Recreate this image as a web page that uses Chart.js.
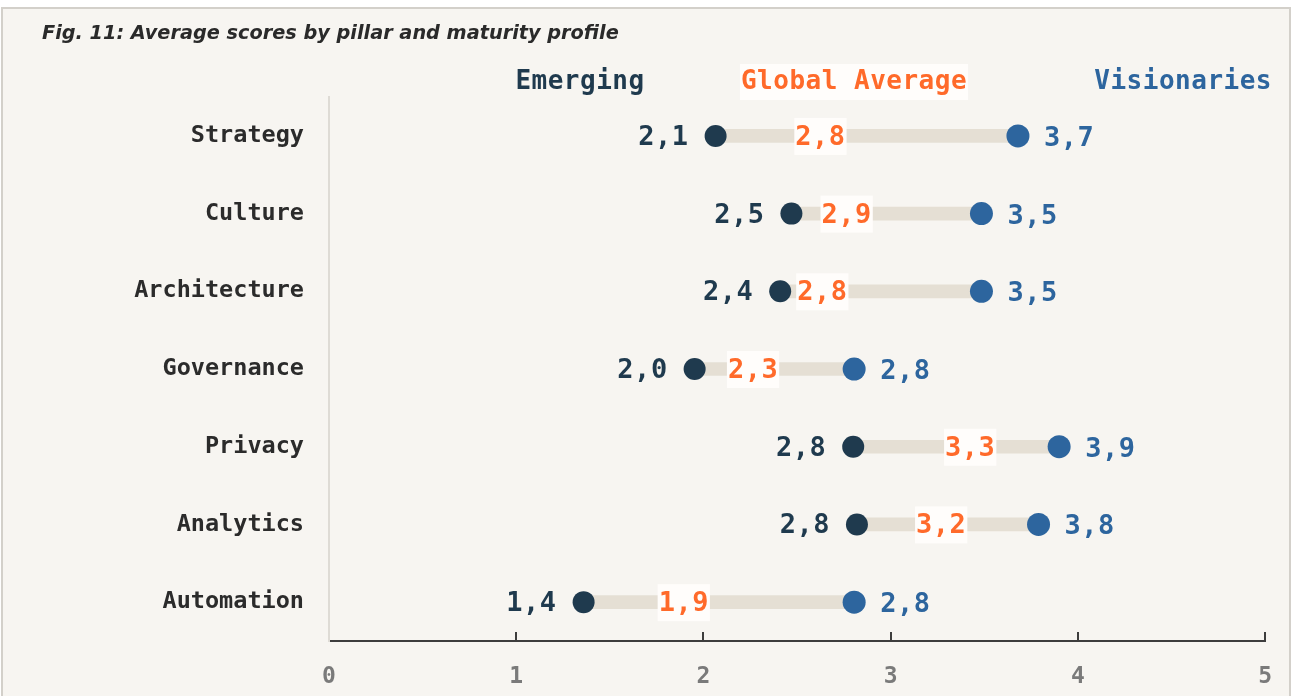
<!DOCTYPE html>
<html>
<head>
<meta charset="utf-8">
<script src="https://cdn.jsdelivr.net/npm/chart.js@4"></script>
<style>
  html, body { margin: 0; padding: 0; background: #ffffff; }
  body { width: 1294px; height: 696px; position: relative; overflow: hidden; }
  .frame {
    position: absolute; left: 1px; top: 7px; width: 1286px; height: 700px;
    border: 2px solid #d3d0ca; border-bottom: none; background: #f7f5f1;
  }
  #wrap { position: absolute; left: 0; top: 0; width: 1294px; height: 696px; }
</style>
</head>
<body>
<div class="frame"></div>
<div id="wrap"><canvas id="chart"></canvas></div>
<script>
// data
const categories = ["Strategy", "Culture", "Architecture", "Governance", "Privacy", "Analytics", "Automation"];
const emerging = [2.065, 2.47, 2.41, 1.953, 2.80, 2.82, 1.36];
const visionaries = [3.68, 3.485, 3.485, 2.805, 3.90, 3.79, 2.805];
const globalAvg = [2.8, 2.9, 2.8, 2.3, 3.3, 3.2, 1.9];
// where the global average label sits along the axis
const globalLabelAt = [2.625, 2.765, 2.635, 2.265, 3.425, 3.27, 1.895];
const xTicks = [0, 1, 2, 3, 4, 5];

const MONO = "'DejaVu Sans Mono', monospace";
const navy = "#1f3a4e";
const blue = "#2d659e";
const orange = "#ff6a2a";

const fmt = v => v.toFixed(1).replace(".", ",");

// labels, headers and the little up-ticks on the x axis
const annotations = {
  id: "annotations",
  afterDatasetsDraw(chart) {
    const ctx = chart.ctx;
    const x = chart.scales.x, y = chart.scales.y;
    ctx.save();
    ctx.letterSpacing = "0.5px";
    ctx.font = "bold 27px " + MONO;
    ctx.textBaseline = "middle";

    categories.forEach((c, i) => {
      const yy = y.getPixelForValue(i);
      // emerging value
      ctx.fillStyle = navy;
      ctx.textAlign = "right";
      ctx.fillText(fmt(emerging[i]), x.getPixelForValue(emerging[i]) - 27, yy + 2);
      // visionaries value
      ctx.fillStyle = blue;
      ctx.textAlign = "left";
      ctx.fillText(fmt(visionaries[i]), x.getPixelForValue(visionaries[i]) + 26, yy + 3);
      // global average with white box
      const gx = x.getPixelForValue(globalLabelAt[i]);
      const t = fmt(globalAvg[i]);
      const w = ctx.measureText(t).width;
      ctx.fillStyle = "#fffdfb";
      ctx.fillRect(gx - w / 2 - 1, yy - 18, w + 2, 37);
      ctx.fillStyle = orange;
      ctx.textAlign = "center";
      ctx.fillText(t, gx, yy + 2);
    });

    // column headers
    const hy = 82;
    ctx.font = "bold 26px " + MONO;
    ctx.textAlign = "center";
    ctx.fillStyle = navy;
    ctx.fillText("Emerging", 580, hy);
    const g = "Global Average";
    const gw = ctx.measureText(g).width;
    ctx.fillStyle = "#fffdfb";
    ctx.fillRect(854 - gw / 2 - 1, hy - 18, gw + 2, 36);
    ctx.fillStyle = orange;
    ctx.fillText(g, 854, hy);
    ctx.textAlign = "right";
    ctx.fillStyle = blue;
    ctx.fillText("Visionaries", 1272, hy);

    // ticks pointing up from the x axis
    ctx.strokeStyle = "#3d3d3d";
    ctx.lineWidth = 2;
    const base = chart.chartArea.bottom;
    xTicks.forEach(v => {
      if (v === 0) return;
      const px = Math.round(x.getPixelForValue(v));
      ctx.beginPath();
      ctx.moveTo(px, base - 9);
      ctx.lineTo(px, base);
      ctx.stroke();
    });
    ctx.restore();
  }
};

new Chart(document.getElementById("chart"), {
  type: "bar",
  data: {
    labels: categories,
    datasets: [
      {
        label: "range",
        data: emerging.map((e, i) => [e, visionaries[i]]),
        backgroundColor: "#e5dfd4",
        barThickness: 13,
        borderSkipped: false,
        order: 3
      },
      {
        type: "line",
        label: "Emerging",
        data: emerging,
        indexAxis: "y",
        showLine: false,
        pointRadius: 11,
        pointHoverRadius: 11,
        pointBackgroundColor: navy,
        pointBorderWidth: 0,
        order: 1
      },
      {
        type: "line",
        label: "Visionaries",
        data: visionaries,
        indexAxis: "y",
        showLine: false,
        pointRadius: 11.5,
        pointHoverRadius: 11.5,
        pointBackgroundColor: blue,
        pointBorderWidth: 0,
        order: 1
      }
    ]
  },
  options: {
    indexAxis: "y",
    responsive: true,
    maintainAspectRatio: false,
    animation: false,
    layout: { padding: { left: 42, right: 28, top: 0, bottom: 8 } },
    plugins: {
      legend: { display: false },
      tooltip: { enabled: false },
      title: {
        display: true,
        text: "Fig. 11: Average scores by pillar and maturity profile",
        align: "start",
        color: "#2a2a2a",
        font: { family: "'DejaVu Sans', sans-serif", size: 19.3, weight: "bold", style: "italic" },
        padding: { top: 22.5, bottom: 51.4 }
      }
    },
    scales: {
      x: {
        type: "linear",
        min: 0,
        max: 5,
        afterBuildTicks: s => { s.ticks = xTicks.map(v => ({ value: v })); },
        afterFit: s => { s.height = 47; },
        grid: { drawOnChartArea: false, drawTicks: false },
        border: { display: true, color: "#3d3d3d", width: 2 },
        ticks: {
          padding: 22,
          color: "#7a7a7a",
          font: { family: MONO, size: 23, weight: "bold" }
        }
      },
      y: {
        type: "category",
        offset: true,
        afterFit: s => { s.width = 329 - 42; },
        grid: { drawOnChartArea: false, drawTicks: false },
        border: { display: true, color: "#dedbd5", width: 2 },
        ticks: {
          padding: 25,
          color: "#2b2b2b",
          font: { family: MONO, size: 23.5, weight: "bold" }
        }
      }
    }
  },
  plugins: [annotations]
});
</script>
</body>
</html>
